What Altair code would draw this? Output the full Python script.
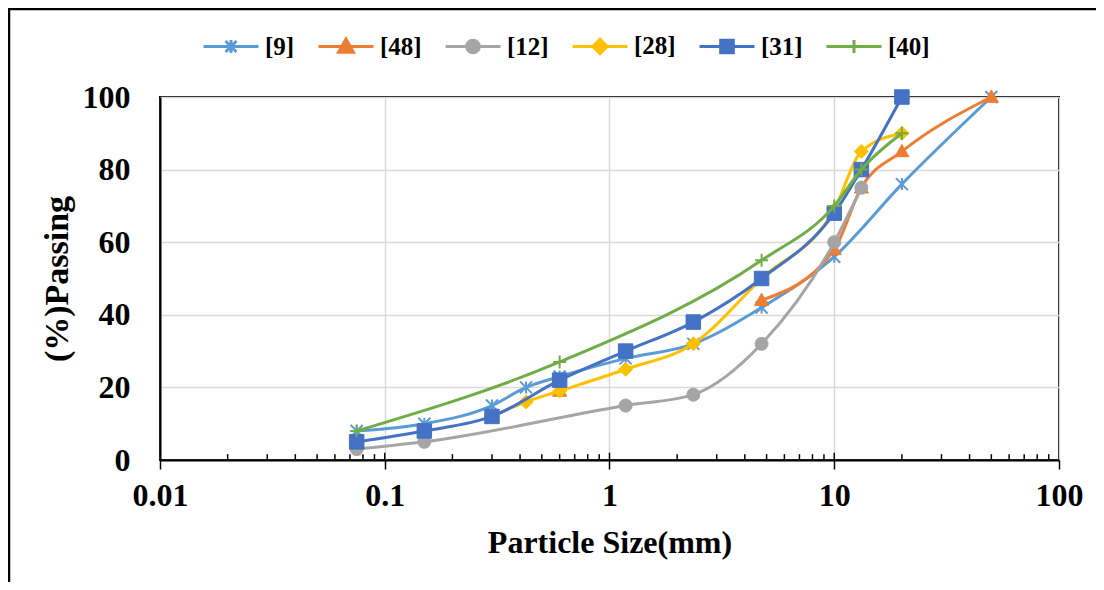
import altair as alt
import pandas as pd

SERIES = ["[9]", "[48]", "[12]", "[28]", "[31]", "[40]"]
COLORS = ["#5B9BD5", "#ED7D31", "#A5A5A5", "#FFC000", "#4472C4", "#70AD47"]

SIZE_9 = [0.075, 0.15, 0.3, 0.425, 0.6, 1.18, 2.36, 4.75, 10, 20, 50]
PASS_9 = [8, 10, 15, 20, 23, 28, 32, 42, 56, 76, 100]
SIZE_48 = [0.6, 4.75, 10, 13.2, 20, 50]
PASS_48 = [19, 44, 58, 75, 85, 100]
SEG_48 = [0, 1, 1, 1, 1, 1]
SIZE_12 = [0.075, 0.15, 1.18, 2.36, 4.75, 10, 13.2]
PASS_12 = [3, 5, 15, 18, 32, 60, 75]
SIZE_28 = [0.3, 0.425, 0.6, 1.18, 2.36, 4.75, 10, 13.2, 20]
PASS_28 = [12, 16, 19, 25, 32, 50, 69, 85, 90]
SIZE_31 = [0.075, 0.15, 0.3, 0.6, 1.18, 2.36, 4.75, 10, 13.2, 20]
PASS_31 = [5, 8, 12, 22, 30, 38, 50, 68, 80, 100]
SIZE_40 = [0.075, 0.6, 4.75, 10, 13.2, 20]
PASS_40 = [8, 27, 55, 70, 80, 90]

X_TICKS = [0.01, 0.1, 1, 10, 100]
Y_TICKS = [0, 20, 40, 60, 80, 100]
MINOR_TICKS = [0.02, 0.03, 0.04, 0.05, 0.06, 0.07, 0.08, 0.09,
               0.2, 0.3, 0.4, 0.5, 0.6, 0.7, 0.8, 0.9,
               2, 3, 4, 5, 6, 7, 8, 9,
               20, 30, 40, 50, 60, 70, 80, 90]
INNER_MAJOR = [0.1, 1, 10]

MARKERS = [
    "M-1,-1L1,1M-1,1L1,-1M0,-1V1",
    "M0,-1L1,0.75L-1,0.75Z",
    "circle",
    "M0,-1L1,0L0,1L-1,0Z",
    "square",
    "M-1,0H1M0,-1V1",
]
MARKER_SIZES = [144, 196, 169, 196, 210, 169]
MARKER_STROKE = [2, 1, 1, 1, 1, 2]
LEGEND_PATHS = [
    "M-1,0H1M-0.2,-0.2L0.2,0.2M-0.2,0.2L0.2,-0.2M0,-0.24V0.24",
    "M-1,0H1M0,-0.27L0.27,0.21L-0.27,0.21Z",
    "M-1,0H1M0.23,0A0.23,0.23,0,1,1,-0.23,0A0.23,0.23,0,1,1,0.23,0Z",
    "M-1,0H1M0,-0.26L0.26,0L0,0.26L-0.26,0Z",
    "M-1,0H1M-0.23,-0.23H0.23V0.23H-0.23Z",
    "M-1,0H1M0,-0.24V0.24",
]

FONT = "Liberation Serif"

data_sets = [
    (SIZE_9, PASS_9, [0] * len(SIZE_9)),
    (SIZE_48, PASS_48, SEG_48),
    (SIZE_12, PASS_12, [0] * len(SIZE_12)),
    (SIZE_28, PASS_28, [0] * len(SIZE_28)),
    (SIZE_31, PASS_31, [0] * len(SIZE_31)),
    (SIZE_40, PASS_40, [0] * len(SIZE_40)),
]

x_scale = alt.Scale(type="log", domain=[0.01, 100], nice=False)
y_scale = alt.Scale(domain=[0, 100], nice=False)

x_axis = alt.Axis(
    values=X_TICKS, format="~g", grid=True, gridColor="#d9d9d9", gridWidth=1.5,
    tickSize=9, tickColor="black", tickWidth=1.5,
    domainColor="black", domainWidth=2,
    labelFont=FONT, labelFontSize=32, labelFontWeight="bold", labelColor="black",
    labelPadding=11, labelFlush=False,
    title="Particle Size(mm)", titleFont=FONT, titleFontSize=32,
    titleFontWeight="bold", titleColor="black", titlePadding=16,
)
y_axis = alt.Axis(
    values=Y_TICKS, grid=True, gridColor="#d9d9d9", gridWidth=1.5,
    ticks=False, tickSize=0, domainColor="black", domainWidth=2,
    labelFont=FONT, labelFontSize=32, labelFontWeight="bold", labelColor="black",
    labelPadding=30,
    title="(%)Passing", titleFont=FONT, titleFontSize=34,
    titleFontWeight="bold", titleColor="black", titlePadding=8,
)

X = alt.X("size:Q", scale=x_scale, axis=x_axis)
Y = alt.Y("passing:Q", scale=y_scale, axis=y_axis)

layers = []

# outer frame of the figure
frame_df = pd.DataFrame({"frame": [1]})
layers.append(
    alt.Chart(frame_df).mark_rect(fillOpacity=0, stroke="black", strokeWidth=2.5).encode(
        x=alt.value(-151), x2=alt.value(960), y=alt.value(-88), y2=alt.value(520)
    )
)

minor_df = pd.DataFrame({"size": MINOR_TICKS})
major_df = pd.DataFrame({"size": INNER_MAJOR})
layers.append(
    alt.Chart(minor_df).mark_rule(color="black", strokeWidth=1.5).encode(
        x=X, y=alt.datum(0), y2=alt.datum(1.6)
    )
)
layers.append(
    alt.Chart(major_df).mark_rule(color="black", strokeWidth=1.5).encode(
        x=X, y=alt.datum(0), y2=alt.datum(2)
    )
)

for i, name in enumerate(SERIES):
    xs, ys, segs = data_sets[i]
    df = pd.DataFrame({"size": xs, "passing": ys, "seg": segs})
    layers.append(
        alt.Chart(df).mark_line(interpolate="monotone", strokeWidth=3,
                                color=COLORS[i]).encode(x=X, y=Y, detail="seg:N")
    )
    layers.append(
        alt.Chart(df).mark_point(shape=MARKERS[i], size=MARKER_SIZES[i], filled=True,
                                 fill=COLORS[i], stroke=COLORS[i],
                                 strokeWidth=MARKER_STROKE[i], opacity=1).encode(x=X, y=Y)
    )

legend_df = pd.DataFrame({"series": SERIES})
legend_layer = alt.Chart(legend_df).transform_filter("false").mark_point(
    filled=True, size=3025, strokeWidth=3, opacity=1
).encode(
    fill=alt.Fill("series:N", scale=alt.Scale(domain=SERIES, range=COLORS), title=None),
    stroke=alt.Stroke("series:N", scale=alt.Scale(domain=SERIES, range=COLORS), title=None),
    shape=alt.Shape("series:N", scale=alt.Scale(domain=SERIES, range=LEGEND_PATHS), title=None),
)
layers.append(legend_layer)

chart = alt.layer(*layers).properties(
    width=899, height=363,
    autosize=alt.AutoSizeParams(type="none"),
    padding={"left": 152, "top": 89, "right": 37, "bottom": 122},
).configure_view(
    stroke="black", strokeWidth=2
).configure_legend(
    orient="none", legendX=42, legendY=-80, direction="horizontal",
    labelFont=FONT, labelFontSize=25, labelFontWeight="bold", labelColor="black",
    labelOffset=5, columnPadding=17, symbolSize=3025, symbolStrokeWidth=3,
    symbolOpacity=1, padding=0, titlePadding=0,
)

chart.save("out.html", embed_options={"renderer": "svg", "actions": False})
